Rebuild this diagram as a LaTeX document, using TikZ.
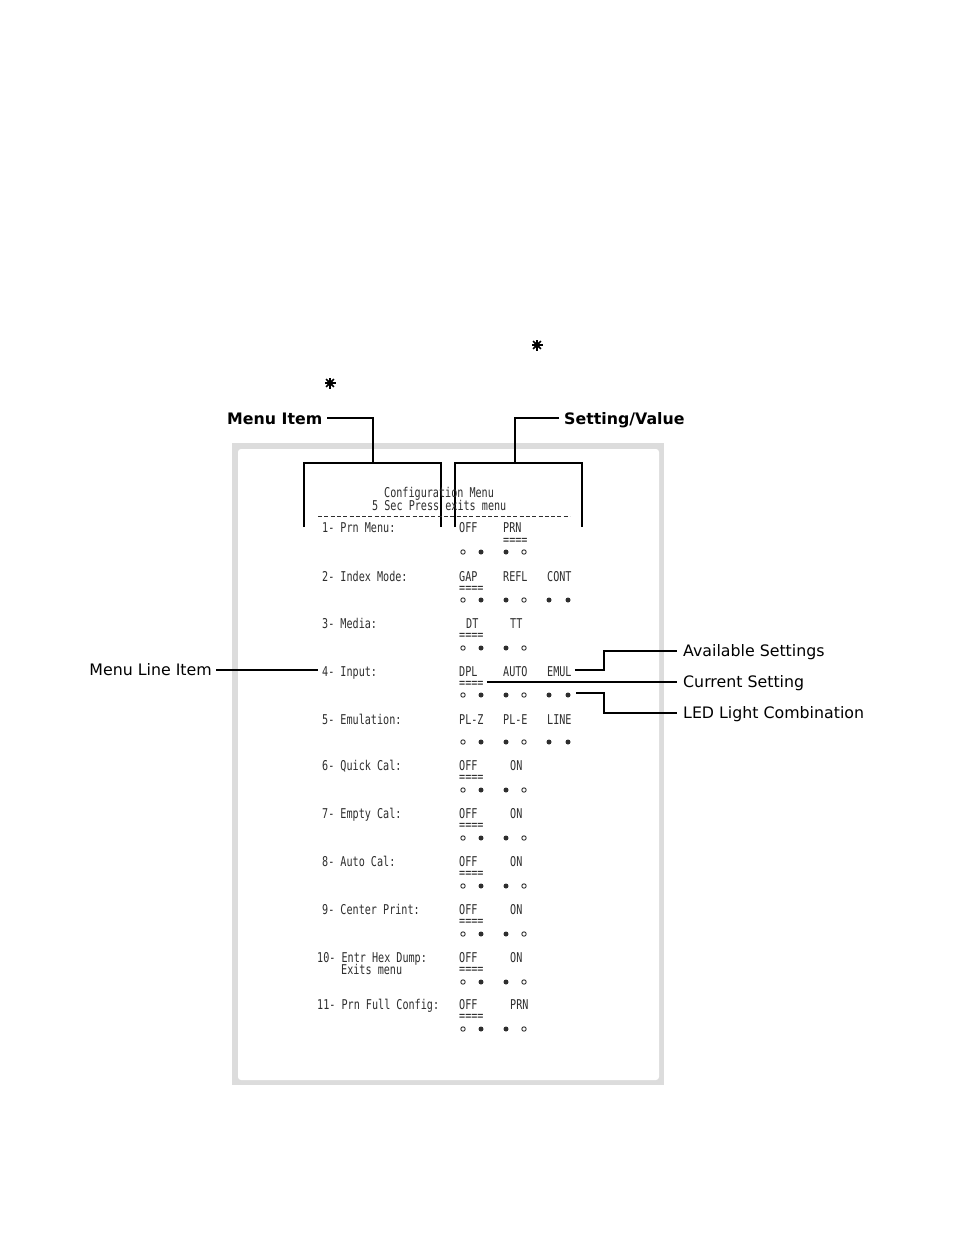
\documentclass[tikz,border=0pt]{standalone}
\usepackage{fontspec}
\setmainfont{DejaVu Sans}
\newfontfamily\prfont{DejaVu Sans Mono}
\usepackage{graphicx}
\newcommand{\ptxt}[1]{\scalebox{0.75}[1]{\prfont\fontsize{13.5}{14}\selectfont #1}}
\definecolor{framegray}{HTML}{DCDCDC}
\definecolor{ink}{HTML}{2E2E2E}
\tikzset{
  pr/.style={anchor=base west, inner sep=0pt, text=ink},
  callout/.style={anchor=base west, inner sep=0pt, font=\fontsize{15.8}{16}\selectfont},
  headlbl/.style={anchor=base west, inner sep=0pt, font=\fontsize{15.8}{16}\selectfont\bfseries},
  bracket/.style={line width=1.8pt},
  lead/.style={line width=1.3pt},
  ledoff/.style={draw=ink, line width=0.9pt},
  ledon/.style={fill=ink},
}
\begin{document}
\begin{tikzpicture}[x=1pt,y=-1pt]
\useasboundingbox (0,0) rectangle (954,1235);
% stars
\foreach \sx/\sy in {537/345, 330/383}{
  \fill (\sx,\sy) circle (3);
  \foreach \a in {0,45,...,315}{\draw[line width=1.6pt] (\sx,\sy) -- ++(\a:5.5);}
}
% frame
\fill[framegray] (232,443) rectangle (664,1085);
\fill[white, rounded corners=3pt] (238,449) rectangle (659,1080);
% header labels
\node[headlbl] (mi) at (227,424) {Menu Item};
\node[headlbl] (sv) at (564,424) {Setting/Value};
\coordinate (miA) at (373,418);
\coordinate (miB) at (373,463);
\coordinate (svA) at (515,418);
\coordinate (svB) at (515,463);
\draw[bracket] ([xshift=5pt]mi.east |- miA) -- (miA) -- (miB);
\draw[bracket] (304,527) -- (304,463) -- (441,463) -- (441,527);
\draw[bracket] ([xshift=-5pt]sv.west |- svA) -- (svA) -- (svB);
\draw[bracket] (455,527) -- (455,463) -- (582,463) -- (582,527);
% printout header
\node[pr] (h1) at (384,497) {\ptxt{Configuration Menu}};
\node[pr] (h2) at (372,510) {\ptxt{5 Sec Press exits menu}};
\draw[ink, line width=0.7pt, dash pattern=on 4pt off 2.3pt] (318,516) -- (570,516);
% menu items
\node[pr] (r1) at (322,532) {\ptxt{1- Prn Menu:}};
\node[pr] (r2) at (322,581) {\ptxt{2- Index Mode:}};
\node[pr] (r3) at (322,628) {\ptxt{3- Media:}};
\node[pr] (r4) at (322,676) {\ptxt{4- Input:}};
\node[pr] (r5) at (322,724) {\ptxt{5- Emulation:}};
\node[pr] (r6) at (322,770) {\ptxt{6- Quick Cal:}};
\node[pr] (r7) at (322,818) {\ptxt{7- Empty Cal:}};
\node[pr] (r8) at (322,866) {\ptxt{8- Auto Cal:}};
\node[pr] (r9) at (322,914) {\ptxt{9- Center Print:}};
\node[pr] (r10) at (317,962) {\ptxt{10- Entr Hex Dump:}};
\node[pr] (r10b) at (341,974) {\ptxt{Exits menu}};
\node[pr] (r11) at (317,1009) {\ptxt{11- Prn Full Config:}};
% values
\node[pr] (v1a) at (459,532) {\ptxt{OFF}};
\node[pr] (v1b) at (503,532) {\ptxt{PRN}};
\node[pr] (v2a) at (459,581) {\ptxt{GAP}};
\node[pr] (v2b) at (503,581) {\ptxt{REFL}};
\node[pr] (v2c) at (547,581) {\ptxt{CONT}};
\node[pr] (v3a) at (466,628) {\ptxt{DT}};
\node[pr] (v3b) at (510,628) {\ptxt{TT}};
\node[pr] (v4a) at (459,676) {\ptxt{DPL}};
\node[pr] (v4b) at (503,676) {\ptxt{AUTO}};
\node[pr] (v4c) at (547,676) {\ptxt{EMUL}};
\node[pr] (v5a) at (459,724) {\ptxt{PL-Z}};
\node[pr] (v5b) at (503,724) {\ptxt{PL-E}};
\node[pr] (v5c) at (547,724) {\ptxt{LINE}};
\foreach \n/\y in {6/770,7/818,8/866,9/914,10/962}{
  \node[pr] (v\n a) at (459,\y) {\ptxt{OFF}};
  \node[pr] (v\n b) at (510,\y) {\ptxt{ON}};
}
\node[pr] (v11a) at (459,1009) {\ptxt{OFF}};
\node[pr] (v11b) at (510,1009) {\ptxt{PRN}};
% current-setting marks
\node[pr] (u1) at (503,544) {\ptxt{====}};
\node[pr] (u2) at (459,592) {\ptxt{====}};
\node[pr] (u3) at (459,639) {\ptxt{====}};
\node[pr] (u4) at (459,687) {\ptxt{====}};
\foreach \n/\y in {6/781,7/829,8/877,9/925,10/973,11/1020}{
  \node[pr] (u\n) at (459,\y) {\ptxt{====}};
}
% LEDs
\foreach \y in {552,600,648,695,742,790,838,886,934,982,1029}{
  \draw[ledoff] (463,\y) circle (2.2);
  \fill[ledon] (481,\y) circle (2.5);
  \fill[ledon] (506,\y) circle (2.5);
  \draw[ledoff] (524,\y) circle (2.2);
}
\foreach \y in {600,695,742}{
  \fill[ledon] (549,\y) circle (2.5);
  \fill[ledon] (568,\y) circle (2.5);
}
\coordinate (ledend) at (571,693);
% callouts
\node[callout] (avail) at (683,656.5) {Available Settings};
\node[callout] (curr) at (683,687.5) {Current Setting};
\node[callout] (ledl) at (683,718.5) {LED Light Combination};
\node[callout, anchor=base east] (mli) at (212,675.5) {Menu Line Item};
\coordinate (cA) at (604,670);
\coordinate (cB) at (604,651);
\coordinate (cC) at (604,693);
\coordinate (cD) at (604,713);
\draw[lead] ([xshift=3pt]v4c.east |- cA) -- (cA) -- (cB) -- ([xshift=-6pt]avail.west |- cB);
\draw[lead] ([xshift=3pt]u4.east |- 0,682) -- ([xshift=-6pt]curr.west |- 0,682);
\draw[lead] ([xshift=5pt]ledend) -- (cC) -- (cD) -- ([xshift=-6pt]ledl.west |- cD);
\draw[lead] ([xshift=4pt]mli.east |- 0,670) -- ([xshift=-4pt]r4.west |- 0,670);
\end{tikzpicture}
\end{document}
